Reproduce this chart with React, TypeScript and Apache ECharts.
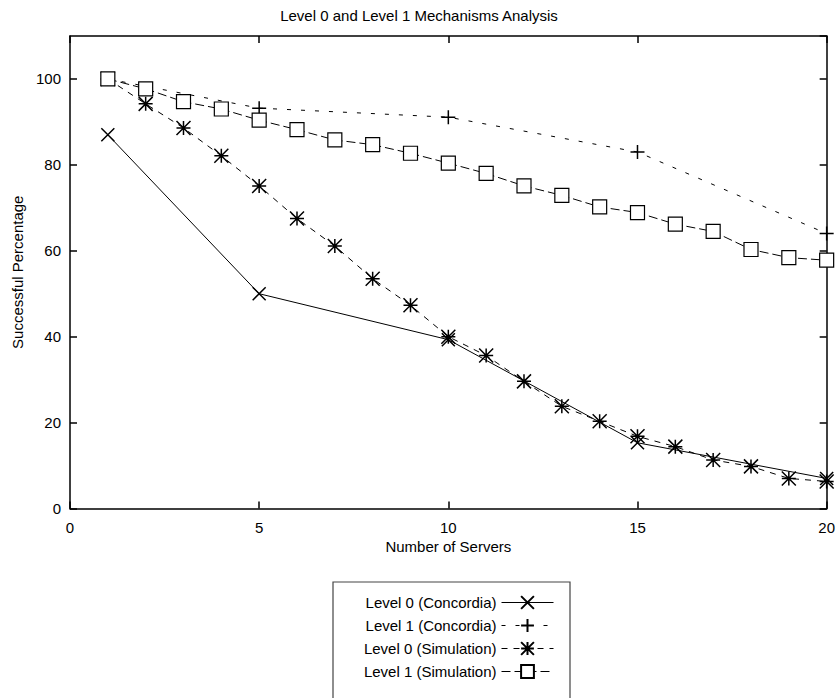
import React, { useEffect, useRef } from "react";
import * as echarts from "echarts";

const titleText = "Level 0 and Level 1 Mechanisms Analysis";
const xName = "Number of Servers";
const yName = "Successful Percentage";

const concordiaServers = [1, 5, 10, 15, 20];
const level0Concordia = [87, 50, 39.3, 15.3, 7.0];
const level1Concordia = [100, 93.2, 91.1, 83.0, 64.0];

const simServers = [1, 2, 3, 4, 5, 6, 7, 8, 9, 10, 11, 12, 13, 14, 15, 16, 17, 18, 19, 20];
const level0Simulation = [100, 94.2, 88.6, 82.1, 75.1, 67.5, 61.1, 53.5, 47.3, 40.0, 35.6, 29.6, 23.8, 20.3, 16.8, 14.4, 11.3, 9.8, 7.0, 6.3];
const level1Simulation = [100, 97.7, 94.7, 93.0, 90.4, 88.2, 85.8, 84.7, 82.7, 80.4, 78.0, 75.1, 72.9, 70.2, 68.9, 66.2, 64.5, 60.3, 58.4, 57.8];

const seriesNames = [
  "Level 0 (Concordia)",
  "Level 1 (Concordia)",
  "Level 0 (Simulation)",
  "Level 1 (Simulation)",
];

const FONT = "Liberation Sans, Arial, Helvetica, sans-serif";

const pairs = (xs: number[], ys: number[]) => xs.map((x, i) => [x, ys[i]]);

export default function App() {
  const ref = useRef<HTMLDivElement>(null);
  useEffect(() => {
    if (!ref.current) return;
    const chart = echarts.init(ref.current, undefined, { renderer: "svg" });
    const axisLine = { show: true, onZero: false, lineStyle: { color: "#000", width: 1.5 } };
    const tick = { show: true, inside: true, length: 7, lineStyle: { color: "#000", width: 1.5 } };
    const markerStyle = { color: "#000", borderColor: "#000", borderWidth: 1.5 };
    chart.setOption({
      animation: false,
      backgroundColor: "#fff",
      title: {
        text: titleText,
        left: "center",
        top: 3,
        padding: [5, 5, 5, 67],
        textStyle: { fontFamily: FONT, fontSize: 15, fontWeight: "normal", color: "#000" },
      },
      grid: { left: 70, right: 8, top: 36, bottom: 189.5, containLabel: false },
      xAxis: [
        {
          type: "value",
          min: 0,
          max: 20,
          interval: 5,
          position: "bottom",
          name: xName,
          nameLocation: "middle",
          nameGap: 30,
          nameTextStyle: { fontFamily: FONT, fontSize: 15, color: "#000" },
          axisLine,
          axisTick: tick,
          splitLine: { show: false },
          axisLabel: { fontFamily: FONT, fontSize: 15, color: "#000", margin: 11 },
        },
        {
          type: "value",
          min: 0,
          max: 20,
          interval: 5,
          position: "top",
          axisLine,
          axisTick: tick,
          splitLine: { show: false },
          axisLabel: { show: false },
        },
      ],
      yAxis: [
        {
          type: "value",
          min: 0,
          max: 110,
          interval: 20,
          position: "left",
          name: yName,
          nameLocation: "middle",
          nameGap: 45,
          nameTextStyle: { fontFamily: FONT, fontSize: 15, color: "#000" },
          axisLine,
          axisTick: tick,
          splitLine: { show: false },
          axisLabel: {
            fontFamily: FONT,
            fontSize: 15,
            color: "#000",
            margin: 9,
            showMaxLabel: false,
            formatter: (v: number) => (v > 100 ? "" : String(v)),
          },
        },
        {
          type: "value",
          min: 0,
          max: 110,
          interval: 20,
          position: "right",
          axisLine,
          axisTick: tick,
          splitLine: { show: false },
          axisLabel: { show: false },
        },
      ],
      legend: {
        orient: "vertical",
        right: 284,
        top: 595,
        padding: 0,
        align: "right",
        itemWidth: 52,
        itemHeight: 16,
        itemGap: 8,
        data: seriesNames,
        lineStyle: { width: 1 },
        textStyle: { fontFamily: FONT, fontSize: 15, color: "#000" },
      },
      graphic: [
        {
          type: "rect",
          shape: { x: 333, y: 582, width: 237, height: 140 },
          style: { fill: "none", stroke: "#444", lineWidth: 1.2 },
          silent: true,
        },
      ],
      series: [
        {
          name: seriesNames[0],
          type: "line",
          data: pairs(concordiaServers, level0Concordia),
          symbol: "path://M0,0L10,10M0,10L10,0",
          symbolSize: 13,
          itemStyle: markerStyle,
          lineStyle: { color: "#000", width: 1, type: "solid" },
          z: 3,
        },
        {
          name: seriesNames[1],
          type: "line",
          data: pairs(concordiaServers, level1Concordia),
          symbol: "path://M5,0L5,10M0,5L10,5",
          symbolSize: 14,
          itemStyle: markerStyle,
          lineStyle: { color: "#000", width: 1, type: [4, 10] },
          z: 3,
        },
        {
          name: seriesNames[2],
          type: "line",
          data: pairs(simServers, level0Simulation),
          symbol: "path://M5,0L5,10M0,5L10,5M0,0L10,10M0,10L10,0",
          symbolSize: 14,
          itemStyle: markerStyle,
          lineStyle: { color: "#000", width: 1, type: [6, 6] },
          z: 3,
        },
        {
          name: seriesNames[3],
          type: "line",
          data: pairs(simServers, level1Simulation),
          symbol: "rect",
          symbolSize: 14,
          itemStyle: { color: "#fff", borderColor: "#000", borderWidth: 1.2 },
          lineStyle: { color: "#000", width: 1, type: [9, 4] },
          z: 3,
        },
      ],
    });
    return () => chart.dispose();
  }, []);
  return <div ref={ref} style={{ width: 838, height: 698, position: "absolute", left: 0, top: 0 }} />;
}
